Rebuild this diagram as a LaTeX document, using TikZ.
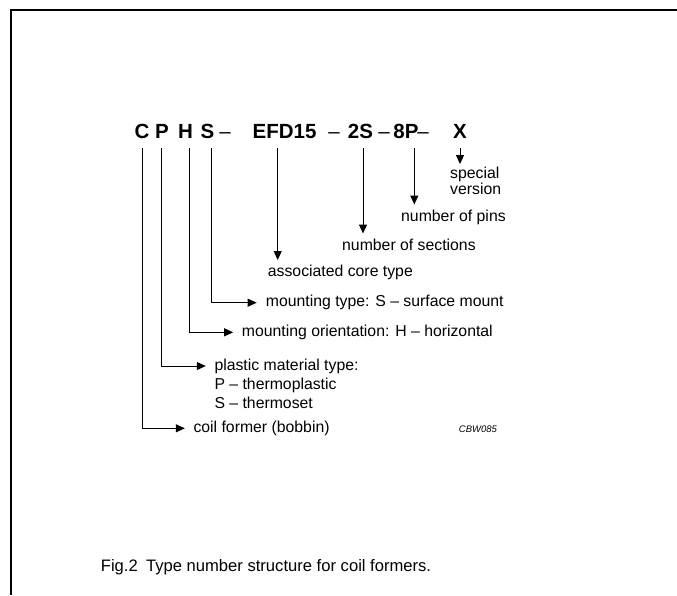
\documentclass[tikz,border=0pt]{standalone}
\usepackage{fontspec}
\setmainfont{Liberation Sans}
\usetikzlibrary{arrows.meta, positioning}

\begin{document}
\begin{tikzpicture}[
    x=1pt, y=-1pt,
    >={Triangle[length=9pt, width=8pt]}, % filled tips as in the data sheet
    code/.style={font=\bfseries\fontsize{20.5}{25}\selectfont, inner sep=0pt, anchor=base},
    lbl/.style={font=\fontsize{15.8}{19}\selectfont, inner sep=0pt, align=left},
    pointer/.style={->, line width=1pt}
]

    % Page and frame
    \useasboundingbox (0,0) rectangle (677,595);
    \draw[line width=2.3pt] (677,10) -| (11,595);

    % Type number, one node per part
    \node[code] (C) at (142,138) {C};
    \node[code] (P) at (162,138) {P};
    \node[code] (H) at (185.5,138) {H};
    \node[code] (S) at (207.5,138) {S};
    \node[code] (dashA) at (225,138) {\mdseries –};
    \node[code] (efd) at (284.5,138) {EFD15};
    \node[code] (dashB) at (334,138) {\mdseries –};
    \node[code] (sec) at (360.5,138) {2S};
    \node[code] (dashC) at (384,138) {\mdseries –};
    \node[code] (pins) at (406,138) {8P};
    \node[code] (dashD) at (423,138) {\mdseries –};
    \node[code] (X) at (460,138) {X};

    % Labels under the number
    \node[lbl, anchor=north west] (version) at (450,167) {special\\[-3pt]version};
    \node[lbl, anchor=north west] (pinnum) at (401,210) {number of pins};
    \node[lbl, anchor=north west] (secnum) at (342,239) {number of sections};
    \node[lbl, anchor=north west] (coretype) at (267.7,265) {associated core type};
    \node[lbl, anchor=west] (mount) at (265.7,302.7) {mounting type: S – surface mount};
    \node[lbl, anchor=west] (orient) at (241.7,332.3) {mounting orientation: H – horizontal};
    \node[lbl, anchor=west] (plastic) at (214.3,366) {plastic material type:};
    \node[lbl, below=3.8pt of plastic.south west, anchor=north west] (plasticopts)
        {P – thermoplastic\\S – thermoset};
    \node[lbl, anchor=west] (former) at (193.3,428.3) {coil former (bobbin)};

    % Straight pointers
    \draw[pointer, shorten <=10pt, shorten >=3pt] (X.south) -- (X.south |- version.north);
    \draw[pointer, shorten <=10pt, shorten >=5.5pt] ([xshift=8.3pt]pins.south)
        -- ([xshift=8.3pt]pins.south |- pinnum.north);
    \draw[pointer, shorten <=10pt, shorten >=5.5pt] ([xshift=2.5pt]sec.south)
        -- ([xshift=2.5pt]sec.south |- secnum.north);
    \draw[pointer, shorten <=10pt, shorten >=5pt] ([xshift=-6.8pt]efd.south)
        -- ([xshift=-6.8pt]efd.south |- coretype.north);

    % Elbow pointers
    \draw[pointer, shorten <=10pt, shorten >=9pt] ([xshift=4.2pt]S.south) |- (mount.west);
    \draw[pointer, shorten <=10pt, shorten >=8.5pt] ([xshift=3.5pt]H.south) |- (orient.west);
    \draw[pointer, shorten <=10pt, shorten >=8.5pt] ([xshift=-1pt]P.south) |- (plastic.west);
    \draw[pointer, shorten <=10pt, shorten >=8.5pt] (C.south) |- (former.west);

    % Drawing code and caption
    \node[font=\itshape\fontsize{9.5}{11}\selectfont, inner sep=0pt] (drawno) at (478,429.3) {CBW085};
    \node[font=\fontsize{16.6}{20}\selectfont, inner sep=0pt] (caption) at (266,567)
        {Fig.2\enspace Type number structure for coil formers.};

\end{tikzpicture}
\end{document}
